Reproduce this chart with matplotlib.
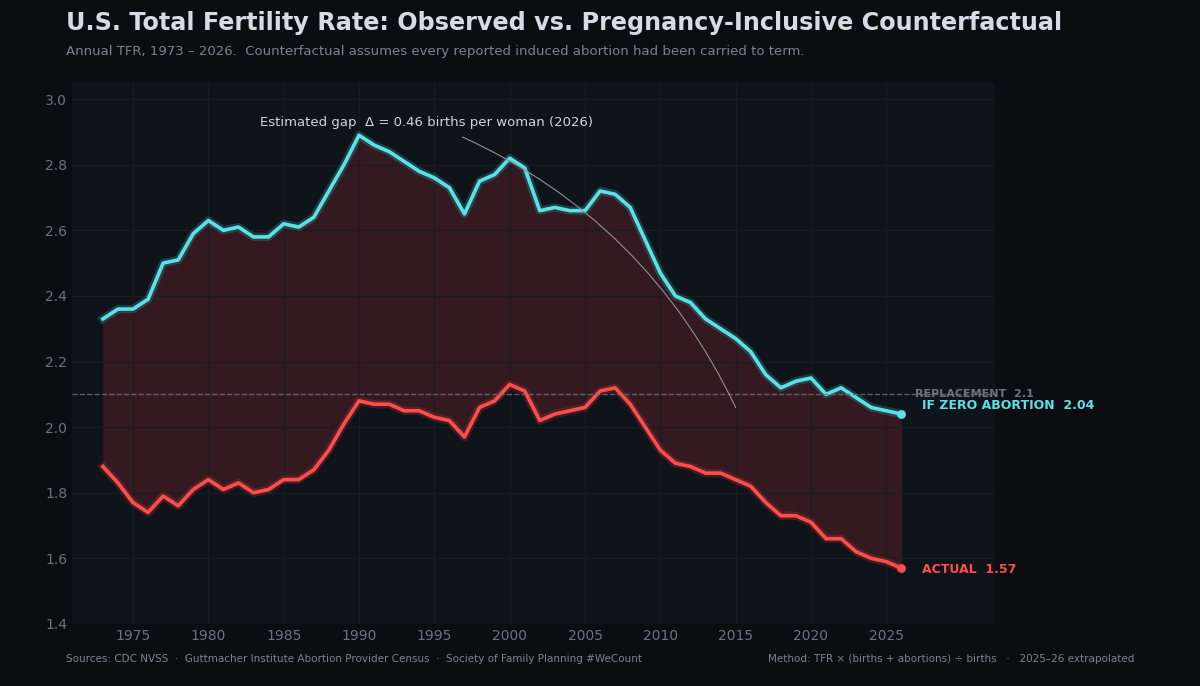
import numpy as np
import matplotlib.pyplot as plt
import matplotlib.patheffects as pe

years = np.arange(1973, 2027)
actual = [1.88, 1.83, 1.77, 1.74, 1.79, 1.76, 1.81, 1.84, 1.81, 1.83,
          1.80, 1.81, 1.84, 1.84, 1.87, 1.93, 2.01, 2.08, 2.07, 2.07,
          2.05, 2.05, 2.03, 2.02, 1.97, 2.06, 2.08, 2.13, 2.11, 2.02,
          2.04, 2.05, 2.06, 2.11, 2.12, 2.07, 2.00, 1.93, 1.89, 1.88,
          1.86, 1.86, 1.84, 1.82, 1.77, 1.73, 1.73, 1.71, 1.66, 1.66,
          1.62, 1.60, 1.59, 1.57]
counterfactual = [2.33, 2.36, 2.36, 2.39, 2.50, 2.51, 2.59, 2.63, 2.60, 2.61,
                  2.58, 2.58, 2.62, 2.61, 2.64, 2.72, 2.80, 2.89, 2.86, 2.84,
                  2.81, 2.78, 2.76, 2.73, 2.65, 2.75, 2.77, 2.82, 2.79, 2.66,
                  2.67, 2.66, 2.66, 2.72, 2.71, 2.67, 2.57, 2.47, 2.40, 2.38,
                  2.33, 2.30, 2.27, 2.23, 2.16, 2.12, 2.14, 2.15, 2.10, 2.12,
                  2.09, 2.06, 2.05, 2.04]
replacement = 2.1
gap_label = '0.46'

RED = '#ff4d4d'
CYAN = '#5ce1e6'
fig = plt.figure(figsize=(12, 6.86), dpi=100, facecolor='#0b0d11')
ax = fig.add_axes([0.06, 0.0904, 0.769, 0.789], facecolor='#0f131a')

ax.fill_between(years, actual, counterfactual, color='#5a1f26', alpha=0.5, lw=0)
ax.plot(years, counterfactual, color=CYAN, lw=2.6,
        path_effects=[pe.Stroke(linewidth=6, foreground='#2f8a90', alpha=0.35), pe.Normal()])
ax.plot(years, actual, color=RED, lw=2.6,
        path_effects=[pe.Stroke(linewidth=6, foreground='#9a3030', alpha=0.35), pe.Normal()])
ax.scatter([years[-1]], [counterfactual[-1]], s=28, color=CYAN, zorder=5)
ax.scatter([years[-1]], [actual[-1]], s=28, color=RED, zorder=5)

ax.axhline(replacement, color='#6b7280', lw=1, ls='--', alpha=0.8)
ax.text(2026.9, replacement, f'REPLACEMENT  {replacement}', color='#6b7280',
        fontsize=8, fontweight='bold', va='center')
ax.text(2027.4, counterfactual[-1] + 0.025, f'IF ZERO ABORTION  {counterfactual[-1]:.2f}',
        color=CYAN, fontsize=9, fontweight='bold', va='center')
ax.text(2027.4, actual[-1] - 0.005, f'ACTUAL  {actual[-1]:.2f}',
        color=RED, fontsize=9, fontweight='bold', va='center')

ax.annotate(f'Estimated gap  Δ = {gap_label} births per woman (2026)',
            xy=(2015, 2.06), xytext=(1994.5, 2.93), color='#d1d5db', fontsize=9.5,
            ha='center', va='center',
            arrowprops=dict(arrowstyle='-', color='#8b919c', lw=0.8,
                            connectionstyle='arc3,rad=-0.2',
                            shrinkA=10, shrinkB=0))

ax.set_xlim(1970.95, 2032.2)
ax.set_ylim(1.4, 3.05)
ax.set_xticks(np.arange(1975, 2030, 5))
ax.set_yticks(np.arange(1.4, 3.01, 0.2))
ax.yaxis.set_major_formatter(plt.FormatStrFormatter('%.1f'))
ax.tick_params(colors='#6b7280', labelsize=10, length=0)
ax.grid(color='#171c26', lw=0.8)
for s in ax.spines.values():
    s.set_visible(False)

fig.text(0.055, 0.967, 'U.S. Total Fertility Rate: Observed vs. Pregnancy-Inclusive Counterfactual',
         color='#d7dbe6', fontsize=17.2, fontweight='bold', va='center')
fig.text(0.055, 0.925, 'Annual TFR, 1973 – 2026.  Counterfactual assumes every reported induced abortion had been carried to term.',
         color='#7b8290', fontsize=9.5, va='center')
fig.text(0.055, 0.04, 'Sources: CDC NVSS  ·  Guttmacher Institute Abortion Provider Census  ·  Society of Family Planning #WeCount',
         color='#7b8290', fontsize=7.5, va='center')
fig.text(0.945, 0.04, 'Method: TFR × (births + abortions) ÷ births   ·   2025–26 extrapolated',
         color='#7b8290', fontsize=7.5, va='center', ha='right')

fig.savefig('out.png', facecolor=fig.get_facecolor())
